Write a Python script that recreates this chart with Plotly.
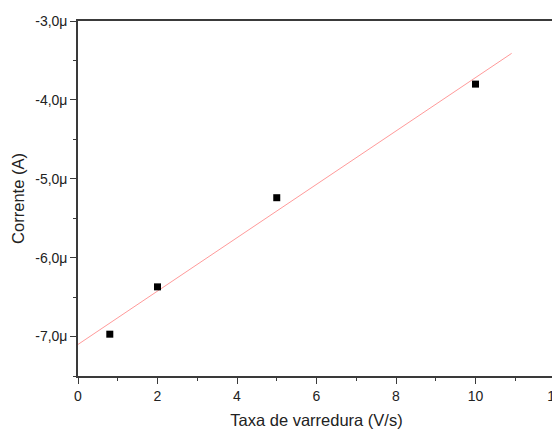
import plotly.graph_objects as go

# Data
scan_rate = [0.8, 2, 5, 10]                       # V/s
current = [-6.97e-6, -6.37e-6, -5.24e-6, -3.80e-6]  # A

# Linear fit line endpoints
fit_x = [0, 10.91]
fit_y = [-7.10e-6, -3.41e-6]

x_ticks = [0, 2, 4, 6, 8, 10, 12]
y_tickvals = [-7e-6, -6e-6, -5e-6, -4e-6, -3e-6]
y_ticktext = ["-7,0\u03bc", "-6,0\u03bc", "-5,0\u03bc", "-4,0\u03bc", "-3,0\u03bc"]

fig = go.Figure()
fig.add_trace(go.Scatter(x=fit_x, y=fit_y, mode="lines",
                         line=dict(color="#ff9a9a", width=1), showlegend=False))
fig.add_trace(go.Scatter(x=scan_rate, y=current, mode="markers",
                         marker=dict(symbol="square", size=7, color="black"),
                         showlegend=False))

FONT = "Liberation Sans, Arial"
axis_common = dict(showgrid=False, zeroline=False, showline=True, linecolor="#3a3a3a",
                   linewidth=1.5, mirror=True, ticks="outside", ticklen=6, tickwidth=1.2,
                   tickcolor="#3a3a3a", automargin=False, ticklabeloverflow="allow",
                   tickfont=dict(family=FONT, size=14, color="#222"))

fig.update_xaxes(range=[0, 12], tickvals=x_ticks,
                 minor=dict(tickmode="array", tickvals=[1, 3, 5, 7, 9, 11], ticklen=3,
                            ticks="outside", tickcolor="#3a3a3a", tickwidth=1.2),
                 title=dict(text="Taxa de varredura (V/s)", standoff=13,
                            font=dict(family=FONT, size=16.5, color="#222")),
                 **axis_common)
fig.update_yaxes(range=[-7.5e-6, -3e-6], tickvals=y_tickvals, ticktext=y_ticktext,
                 minor=dict(tickmode="array", tickvals=[-7.5e-6, -6.5e-6, -5.5e-6, -4.5e-6, -3.5e-6],
                            ticklen=3, ticks="outside", tickcolor="#3a3a3a", tickwidth=1.2),
                 title=dict(text="Corrente (A)", standoff=6,
                            font=dict(family=FONT, size=16.5, color="#222")),
                 **axis_common)

# The page adds an 8px body margin, so the figure is offset by 8px right and down.
fig.update_layout(width=552, height=421, margin=dict(l=70, r=5, t=13, b=53),
                  plot_bgcolor="white", paper_bgcolor="white")
fig.write_html("out.html")
